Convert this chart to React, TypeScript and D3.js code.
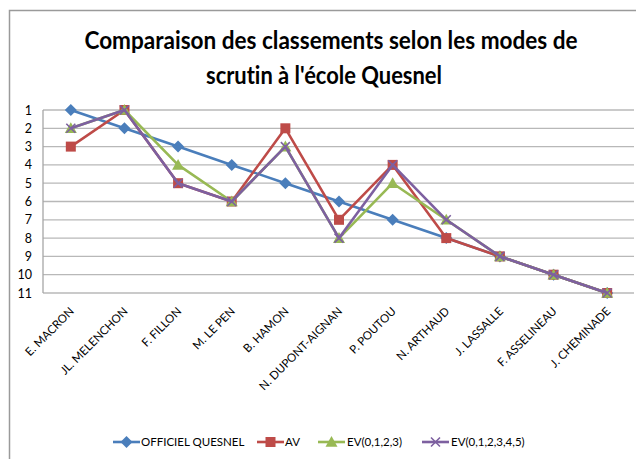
import React from "react";
import * as d3 from "d3";

const categories = [
  "E. MACRON", "JL. MELENCHON", "F. FILLON", "M. LE PEN", "B. HAMON",
  "N. DUPONT-AIGNAN", "P. POUTOU", "N. ARTHAUD", "J. LASSALLE", "F. ASSELINEAU", "J. CHEMINADE",
];
const officiel = [1, 2, 3, 4, 5, 6, 7, 8, 9, 10, 11];
const av = [3, 1, 5, 6, 2, 7, 4, 8, 9, 10, 11];
const ev0123 = [2, 1, 4, 6, 3, 8, 5, 7, 9, 10, 11];
const ev012345 = [2, 1, 5, 6, 3, 8, 4, 7, 9, 10, 11];
const yTicks = [1, 2, 3, 4, 5, 6, 7, 8, 9, 10, 11];
const seriesNames = ["OFFICIEL QUESNEL", "AV", "EV(0,1,2,3)", "EV(0,1,2,3,4,5)"];
const seriesColors = ["#4A7EBB", "#BE4B48", "#98B954", "#7D60A0"];
const seriesMarkers = ["diamond", "square", "triangle", "x"];
const seriesValues = [officiel, av, ev0123, ev012345];

const W = 636, H = 459;
const plotL = 44, plotR = 634, plotT = 110, plotB = 293;
const font = "Lato, 'Open Sans', sans-serif";

function Marker({ type, x, y, color }: { type: string; x: number; y: number; color: string }) {
  if (type === "diamond") {
    const r = 6;
    return <path d={`M${x},${y - r}L${x + r},${y}L${x},${y + r}L${x - r},${y}Z`} fill={color} />;
  }
  if (type === "square") {
    const r = 5;
    return <rect x={x - r} y={y - r} width={2 * r} height={2 * r} fill={color} />;
  }
  if (type === "triangle") {
    const r = 6;
    return <path d={`M${x},${y - r}L${x + r},${y + r * 0.8}L${x - r},${y + r * 0.8}Z`} fill={color} />;
  }
  const r = 4.5;
  return (
    <path d={`M${x - r},${y - r}L${x + r},${y + r}M${x - r},${y + r}L${x + r},${y - r}`} stroke={color} strokeWidth={1.6} fill="none" />
  );
}

export default function App() {
  const x = d3.scaleBand<string>().domain(categories).range([plotL, plotR]);
  const y = d3.scaleLinear().domain([1, 11]).range([plotT, plotB]);
  const line = d3
    .line<number>()
    .x((_, i) => (x(categories[i]) as number) + x.bandwidth() / 2)
    .y((d) => y(d));

  const legendItems = [
    { lx: 113, tx: 141 },
    { lx: 257, tx: 285 },
    { lx: 318, tx: 347 },
    { lx: 422, tx: 451 },
  ];

  return (
    <svg width={W} height={H} style={{ position: "absolute", left: 0, top: 0, fontVariantLigatures: "none" }} fontFamily={font}>
      <rect x={0} y={0} width={W} height={H} fill="#fff" />
      <path d={`M9.5,${H}V10.5H${W}`} fill="none" stroke="#9a9a9a" strokeWidth={1.5} />
      <text x={331} y={49} textAnchor="middle" fontSize={24} fontWeight="bold" fill="#000" textLength={493} lengthAdjust="spacingAndGlyphs">
        Comparaison des classements selon les modes de
      </text>
      <text x={324} y={84} textAnchor="middle" fontSize={24} fontWeight="bold" fill="#000" textLength={236} lengthAdjust="spacingAndGlyphs">
        scrutin à l'école Quesnel
      </text>
      {yTicks.map((t) => (
        <line key={t} x1={plotL - 1} x2={plotR} y1={y(t)} y2={y(t)} stroke="#b8b8b8" strokeWidth={1.3} />
      ))}
      <line x1={plotL - 1} x2={plotL - 1} y1={plotT} y2={plotB} stroke="#a6a6a6" strokeWidth={1.3} />
      {yTicks.map((t) => (
        <text key={t} x={32} y={y(t)} dy="0.36em" textAnchor="end" fontSize={12.5} fill="#000">
          {t}
        </text>
      ))}
      {categories.map((c) => {
        const cx = (x(c) as number) + x.bandwidth() / 2;
        return (
          <text key={c} transform={`translate(${cx + 4},${plotB + 19}) rotate(-45)`} textAnchor="end" fontSize={11.5} fill="#000">
            {c}
          </text>
        );
      })}
      {seriesValues.map((vals, si) => (
        <g key={si}>
          <path d={line(vals) as string} fill="none" stroke={seriesColors[si]} strokeWidth={2.6} strokeLinejoin="round" />
          {vals.map((v, i) => (
            <Marker key={i} type={seriesMarkers[si]} x={(x(categories[i]) as number) + x.bandwidth() / 2} y={y(v)} color={seriesColors[si]} />
          ))}
        </g>
      ))}
      {legendItems.map((it, si) => (
        <g key={si}>
          <line x1={it.lx} x2={it.lx + 27} y1={442} y2={442} stroke={seriesColors[si]} strokeWidth={2.6} />
          <Marker type={seriesMarkers[si]} x={it.lx + 13.5} y={442} color={seriesColors[si]} />
          <text x={it.tx} y={442} dy="0.35em" fontSize={11.5} fill="#000">
            {seriesNames[si]}
          </text>
        </g>
      ))}
    </svg>
  );
}
